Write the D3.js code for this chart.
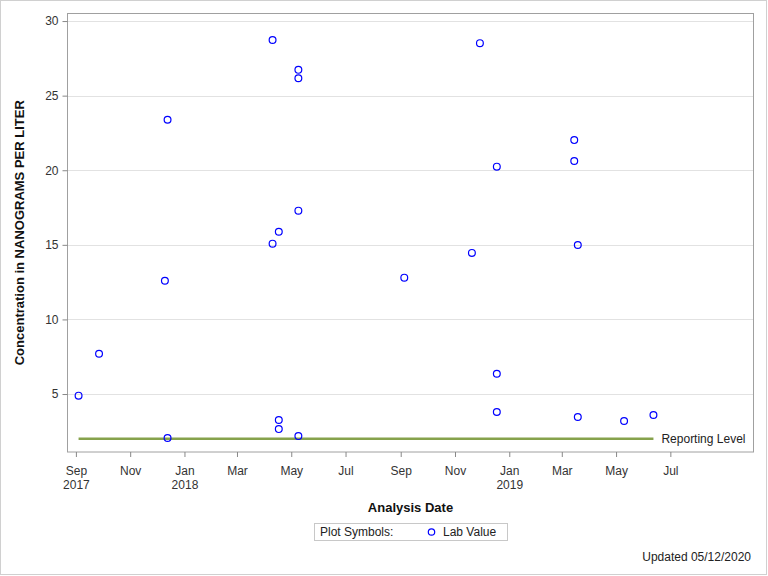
<!DOCTYPE html>
<html><head><meta charset="utf-8">
<script src="https://cdn.jsdelivr.net/npm/d3@7"></script>
<style>body{margin:0;background:#fff}svg{display:block}text{font-family:"Liberation Sans",Arial,sans-serif}</style>
</head><body>
<script>
const sampleDates = ["2017-09-04","2017-09-27","2017-12-10","2017-12-13","2017-12-13",
  "2018-04-10","2018-04-10","2018-04-17","2018-04-17","2018-04-17","2018-05-09","2018-05-09","2018-05-09","2018-05-09",
  "2018-09-05","2018-11-20","2018-11-29","2018-12-18","2018-12-18","2018-12-18",
  "2019-03-15","2019-03-15","2019-03-19","2019-03-19","2019-05-10","2019-06-12"];
const labValues = [4.89,7.70,12.59,23.38,2.05,
  28.73,15.08,15.88,3.26,2.65,26.73,26.17,17.29,2.18,
  12.80,14.46,28.52,20.24,6.36,3.79,
  22.02,20.62,14.99,3.46,3.19,3.59];
const reportingLevel = 2.0;
const reportingRange = ["2017-09-04","2019-06-12"];
const yTicks = [5,10,15,20,25,30];
const xTickDates = ["2017-09-01","2017-11-01","2018-01-01","2018-03-01","2018-05-01","2018-07-01",
  "2018-09-01","2018-11-01","2019-01-01","2019-03-01","2019-05-01","2019-07-01"];
const xDomain = ["2017-08-22","2019-10-03"];
const yDomain = [1.08, 30.54];

const W=768,H=576;
const L=67,R=754,T=13,B=452.5;
const parse=d3.utcParse("%Y-%m-%d");
const svg=d3.select("body").append("svg").attr("width",W).attr("height",H);
svg.append("rect").attr("x",0.5).attr("y",0.5).attr("width",W-2).attr("height",H-2)
  .attr("fill","#fff").attr("stroke","#d0d0d0");

const x=d3.scaleUtc().domain(xDomain.map(parse)).range([L,R]);
const y=d3.scaleLinear().domain(yDomain).range([B,T]);

// grid
svg.append("g").selectAll("line").data(yTicks).join("line")
  .attr("x1",L).attr("x2",R).attr("y1",d=>Math.round(y(d))+0.5).attr("y2",d=>Math.round(y(d))+0.5)
  .attr("stroke","#e2e2e2");

// frame
svg.append("rect").attr("x",L+0.5).attr("y",T+0.5).attr("width",R-L-1).attr("height",B-T-1)
  .attr("fill","none").attr("stroke","#a0a0a0");

// y axis
const yAxis=d3.axisLeft(y).tickValues(yTicks).tickSize(5).tickPadding(4);
const gy=svg.append("g").attr("transform",`translate(${L+0.5},0)`).call(yAxis);
gy.select(".domain").remove();
gy.selectAll(".tick line").attr("stroke","#888");
gy.selectAll("text").attr("font-size",12).attr("fill","#333");

// x axis
const xAxis=d3.axisBottom(x).tickValues(xTickDates.map(parse)).tickSize(5).tickPadding(4).tickFormat(()=>"");
const gx=svg.append("g").attr("transform",`translate(0,${B-0.5})`).call(xAxis);
gx.select(".domain").remove();
gx.selectAll(".tick line").attr("stroke","#888");
gx.selectAll(".tick").each(function(d){
  const t=d3.select(this).select("text").attr("font-size",12).attr("fill","#333").attr("y",14).attr("dy","0.71em");
  t.append("tspan").attr("x",0).text(d3.utcFormat("%b")(d));
  if(d.getUTCMonth()===0||(d.getUTCMonth()===8&&d.getUTCFullYear()===2017)){
    t.append("tspan").attr("x",0).attr("dy",14.5).text(d3.utcFormat("%Y")(d));
  }
});

// reporting level
svg.append("line").attr("x1",x(parse(reportingRange[0]))).attr("x2",x(parse(reportingRange[1])))
  .attr("y1",y(reportingLevel)).attr("y2",y(reportingLevel))
  .attr("stroke","#86a24c").attr("stroke-width",2.5);
svg.append("text").attr("x",x(parse(reportingRange[1]))+8).attr("y",y(reportingLevel)+4.5)
  .attr("font-size",12).attr("fill","#222").text("Reporting Level");

// points
svg.append("g").selectAll("circle").data(sampleDates.map((d,i)=>({d:parse(d),v:labValues[i]}))).join("circle")
  .attr("cx",d=>x(d.d)).attr("cy",d=>y(d.v)).attr("r",3.4)
  .attr("fill","none").attr("stroke","#0000ff").attr("stroke-width",1.2);

// axis titles
svg.append("text").attr("transform",`translate(24,${(T+B)/2}) rotate(-90)`).attr("text-anchor","middle")
  .attr("font-size",13).attr("font-weight","bold").attr("fill","#111").text("Concentration in NANOGRAMS PER LITER");
svg.append("text").attr("x",(L+R)/2).attr("y",512).attr("text-anchor","middle")
  .attr("font-size",13).attr("font-weight","bold").attr("fill","#111").text("Analysis Date");

// legend
svg.append("rect").attr("x",314.5).attr("y",523.5).attr("width",193).attr("height",17)
  .attr("fill","#fff").attr("stroke","#c8c8c8");
svg.append("text").attr("x",320).attr("y",536).attr("font-size",12).attr("fill","#222").text("Plot Symbols:");
svg.append("circle").attr("cx",431.5).attr("cy",532).attr("r",3.2).attr("fill","none").attr("stroke","#0000ff").attr("stroke-width",1.2);
svg.append("text").attr("x",443).attr("y",536).attr("font-size",12).attr("fill","#222").text("Lab Value");

svg.append("text").attr("x",751).attr("y",561).attr("text-anchor","end").attr("font-size",12).attr("fill","#222").text("Updated 05/12/2020");
</script>
</body></html>
